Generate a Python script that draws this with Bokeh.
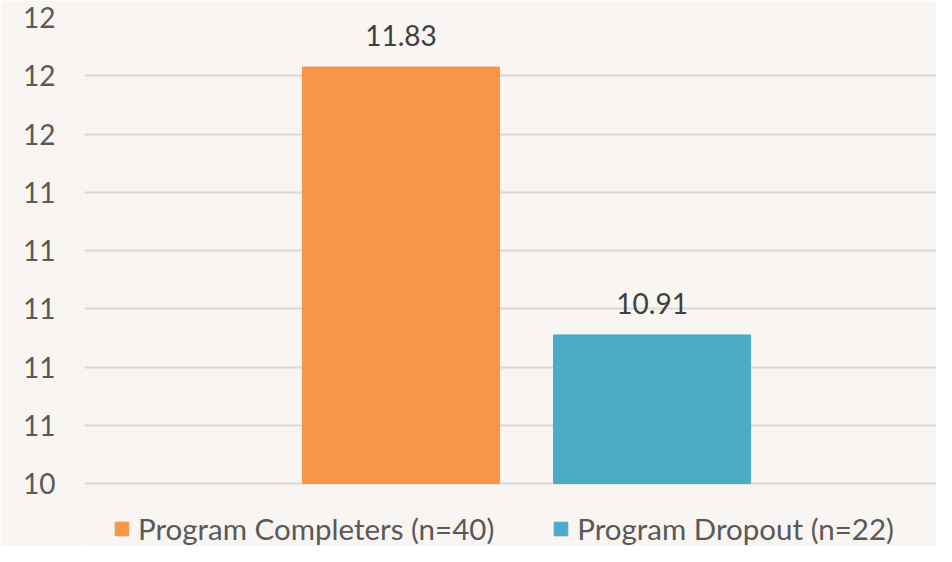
from bokeh.plotting import figure
from bokeh.models import ColumnDataSource, FixedTicker, Range1d, Legend, LegendItem
from bokeh.core.properties import value
from bokeh.embed import file_html
from bokeh.resources import INLINE

# ---- data ----
series = ["Program Completers (n=40)", "Program Dropout (n=22)"]
means = [11.83, 10.91]
colors = ["#F79646", "#4BACC6"]
y_ticks = [10.4, 10.6, 10.8, 11.0, 11.2, 11.4, 11.6, 11.8, 12.0]
y_tick_labels = ["10", "11", "11", "11", "11", "11", "12", "12", "12"]

FONT = "Lato"
FS = "28px"
BG = "#F8F5F2"

# layout: value axis from y_ticks[0] to y_ticks[-1] spans 466 px; the frame
# extends further down to hold the legend
W, H, TOP = 936, 546, 17
AXIS_PX = 466
px_per_unit = AXIS_PX / (y_ticks[-1] - y_ticks[0])
y_start = y_ticks[0] - (H - TOP - AXIS_PX) / px_per_unit

src = ColumnDataSource(dict(
    x=list(range(len(series))),
    top=means,
    color=colors,
    text=[f"{v:.2f}" for v in means],
))

p = figure(width=W, height=H, output_backend="svg", toolbar_location=None,
           x_range=Range1d(-1.261, 2.133), y_range=Range1d(y_start, y_ticks[-1]),
           min_border_left=84, min_border_right=0, min_border_top=TOP, min_border_bottom=0,
           background_fill_color=BG, border_fill_color=BG)
p.outline_line_color = None

bars = p.vbar(x="x", top="top", bottom=y_ticks[0], width=0.785, color="color", source=src)

p.text(x="x", y="top", text="text", source=src, text_align="center",
       text_baseline="bottom", y_offset=-21, text_color="#404040",
       text_font=value(FONT), text_font_size=FS)

p.xaxis.visible = False
p.xgrid.visible = False

ya = p.yaxis[0]
ya.ticker = FixedTicker(ticks=y_ticks)
ya.major_label_overrides = {t: l for t, l in zip(y_ticks, y_tick_labels)}
ya.axis_line_color = None
ya.major_tick_line_color = None
ya.minor_tick_line_color = None
ya.major_tick_out = 0
ya.major_tick_in = 0
ya.major_label_standoff = 29
ya.major_label_text_font = FONT
ya.major_label_text_font_size = FS
ya.major_label_text_color = "#595959"

p.ygrid.ticker = FixedTicker(ticks=y_ticks)
p.ygrid.grid_line_color = "#D9D9D9"
p.ygrid.grid_line_width = 2

items = [LegendItem(label=s, renderers=[bars], index=i) for i, s in enumerate(series)]
lg = Legend(items=items, orientation="horizontal", location=(29, 0),
            padding=0, margin=0, spacing=58, border_line_color=None,
            background_fill_alpha=0, glyph_width=17, glyph_height=17,
            label_standoff=8, label_text_font=FONT, label_text_font_size="29.5px",
            label_text_color="#595959")
p.add_layout(lg)

open("out.html", "w").write(file_html(p, INLINE))
